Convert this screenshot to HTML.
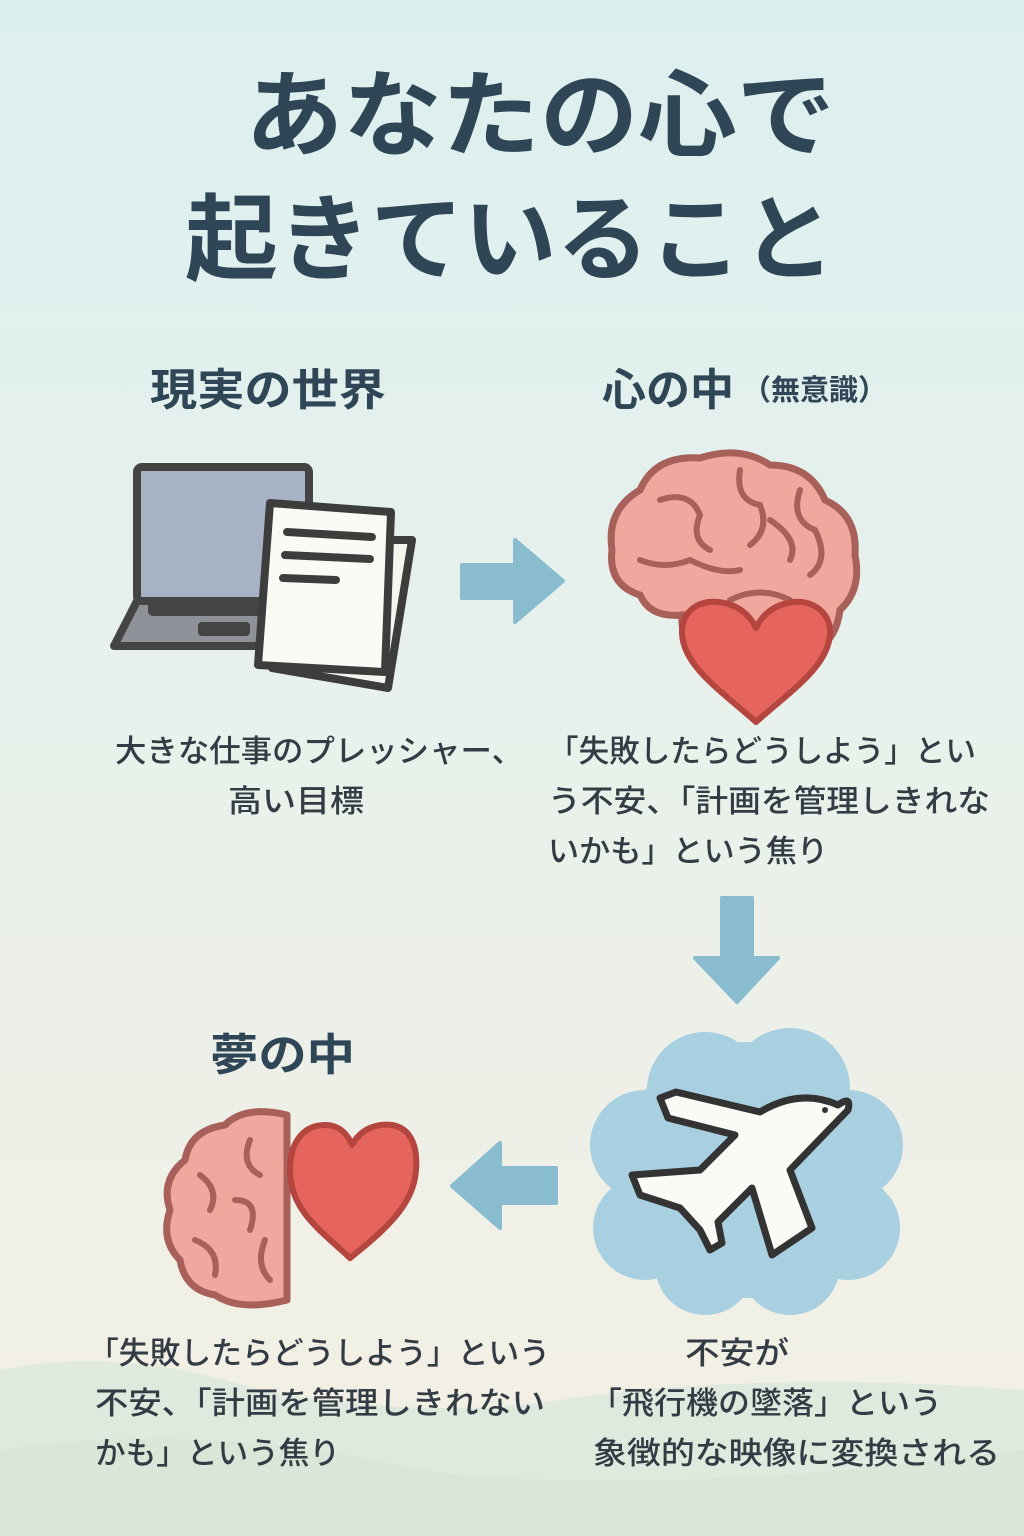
<!DOCTYPE html>
<html><head><meta charset="utf-8"><style>
html,body{margin:0;padding:0;width:1024px;height:1536px;overflow:hidden}
svg{display:block}
text{font-family:"Liberation Sans","Noto Sans CJK JP",sans-serif;fill:#2f4656}
.c{fill:#333c44;font-size:31px;font-weight:500}
</style></head><body>
<svg width="1024" height="1536" viewBox="0 0 1024 1536" xmlns="http://www.w3.org/2000/svg">
<defs>
<linearGradient id="bg" x1="0" y1="0" x2="0" y2="1">
<stop offset="0" stop-color="#dcefef"/><stop offset="0.5" stop-color="#e9f1eb"/><stop offset="1" stop-color="#f4efe3"/>
</linearGradient>
</defs>
<rect width="1024" height="1536" fill="url(#bg)"/>
<path d="M0 1370 Q120 1345 260 1390 Q420 1420 560 1400 Q760 1370 1024 1390 L1024 1536 L0 1536Z" fill="#dfe9de"/>
<path d="M0 1450 Q200 1420 420 1470 Q650 1500 1024 1450 L1024 1536 L0 1536Z" fill="#d6e4d6" opacity="0.7"/>

<text x="245" y="148" font-size="94" font-weight="bold" textLength="590" lengthAdjust="spacingAndGlyphs">あなたの心で</text>
<text x="185" y="272" font-size="94" font-weight="bold" textLength="650" lengthAdjust="spacingAndGlyphs">起きていること</text>

<text x="150" y="405" font-size="44" font-weight="bold" textLength="236" lengthAdjust="spacingAndGlyphs">現実の世界</text>
<text x="602" y="405" font-size="44" font-weight="bold">心の中</text>
<text x="742" y="400" font-size="29" font-weight="bold">（無意識）</text>
<text x="210" y="1070" font-size="44" font-weight="bold" textLength="145" lengthAdjust="spacingAndGlyphs">夢の中</text>

<!-- laptop -->
<rect x="137" y="467" width="172" height="134" rx="5" fill="#a7b3c5" stroke="#444" stroke-width="8"/>
<path d="M137 601 L309 601 L309 646 L114 646 Z" fill="#8e9197" stroke="#444" stroke-width="8" stroke-linejoin="round"/>
<rect x="148" y="598" width="140" height="18" rx="5" fill="#444"/>
<rect x="198" y="622" width="52" height="14" rx="4" fill="#444"/>
<!-- documents -->
<path d="M292 540 L412 540 L388 688 L272 668 Z" fill="#f7f5ef" stroke="#3d3d3d" stroke-width="8" stroke-linejoin="round"/>
<path d="M270 503 L391 512 L385 672 L258 665 Z" fill="#fbfaf5" stroke="#3d3d3d" stroke-width="8" stroke-linejoin="round"/>
<path d="M287 532 L372 537 M285 555 L370 559 M283 578 L336 580" stroke="#3d3d3d" stroke-width="8" stroke-linecap="round"/>

<!-- arrow right -->
<path d="M462 565 L515 565 L515 540 L563 581 L515 622 L515 598 L462 598 Z" fill="#88bcce" stroke="#88bcce" stroke-width="4" stroke-linejoin="round"/>

<!-- brain top -->
<path d="M640 490 Q655 455 700 458 Q740 445 770 465 Q810 465 825 500 Q858 515 855 555 Q862 590 840 610 Q835 650 800 652 Q780 665 760 650 L700 650 Q680 640 682 615 Q650 618 640 595 Q608 585 612 550 Q606 510 640 490Z" fill="#f0a89e" stroke="#a8605a" stroke-width="7"/>
<g fill="none" stroke="#a8605a" stroke-width="6" stroke-linecap="round">
<path d="M660 500 Q690 490 700 515 Q690 540 710 550"/><path d="M740 470 Q735 500 760 505 Q770 530 750 545"/>
<path d="M800 490 Q790 520 815 530 Q830 560 810 575"/><path d="M640 560 Q665 570 690 560 Q720 575 740 570"/>
<path d="M730 600 Q760 585 790 600"/><path d="M770 520 Q800 540 790 560"/></g>
<!-- heart top -->
<path d="M756 722 C720 690 682 665 682 632 C682 610 700 600 718 602 C738 604 750 615 756 628 C762 615 774 604 794 602 C812 600 830 612 830 632 C830 665 792 690 756 722Z" fill="#e5645d" stroke="#b4453f" stroke-width="6" stroke-linejoin="round"/>

<!-- down arrow -->
<path d="M722 898 L752 898 L752 958 L778 958 L737 1002 L695 958 L722 958 Z" fill="#88bcce" stroke="#88bcce" stroke-width="4" stroke-linejoin="round"/>

<!-- cloud -->
<g fill="#a9d0e1">
<circle cx="745" cy="1170" r="128"/><circle cx="705" cy="1090" r="58"/><circle cx="790" cy="1088" r="60"/>
<circle cx="645" cy="1145" r="55"/><circle cx="848" cy="1145" r="55"/><circle cx="645" cy="1228" r="52"/>
<circle cx="848" cy="1228" r="52"/><circle cx="705" cy="1265" r="50"/><circle cx="790" cy="1265" r="50"/>
</g>
<!-- plane -->
<path d="M838 1105 Q852 1095 848 1110 L790 1170 L812 1228 L772 1255 L752 1188 L718 1222 L722 1243 L710 1250 L700 1230 L680 1208 L640 1195 L632 1175 L700 1170 L735 1135 L668 1118 L660 1098 L676 1092 L760 1112 Q800 1088 838 1105Z" fill="#fbfaf5" stroke="#333" stroke-width="7" stroke-linejoin="round"/>
<circle cx="825" cy="1110" r="3" fill="#333"/>

<!-- left arrow -->
<path d="M556 1168 L500 1168 L500 1143 L452 1186 L500 1228 L500 1203 L556 1203 Z" fill="#88bcce" stroke="#88bcce" stroke-width="4" stroke-linejoin="round"/>

<!-- bottom brain half -->
<path d="M287 1115 Q245 1105 225 1125 Q190 1130 185 1160 Q160 1180 170 1210 Q160 1240 180 1260 Q185 1290 215 1295 Q240 1312 287 1300 Z" fill="#f0a89e" stroke="#a8605a" stroke-width="7" stroke-linejoin="round"/>
<g fill="none" stroke="#a8605a" stroke-width="6" stroke-linecap="round">
<path d="M250 1140 Q240 1165 260 1175"/><path d="M200 1175 Q220 1190 210 1210"/><path d="M235 1200 Q260 1200 250 1230"/>
<path d="M195 1240 Q220 1250 215 1275"/><path d="M265 1240 Q255 1265 270 1280"/></g>
<path d="M350 1258 C320 1230 290 1210 290 1170 C290 1140 305 1125 325 1125 C340 1125 348 1135 352 1145 C360 1130 375 1123 392 1125 C410 1128 418 1145 416 1170 C414 1205 385 1230 350 1258Z" fill="#e5645d" stroke="#b4453f" stroke-width="6" stroke-linejoin="round"/>

<!-- captions -->
<text class="c" x="115" y="762" textLength="408" lengthAdjust="spacingAndGlyphs">大きな仕事のプレッシャー、</text>
<text class="c" x="228" y="812" textLength="136" lengthAdjust="spacingAndGlyphs">高い目標</text>
<text class="c" x="548" y="762" textLength="428" lengthAdjust="spacingAndGlyphs">「失敗したらどうしよう」とい</text>
<text class="c" x="548" y="812" textLength="442" lengthAdjust="spacingAndGlyphs">う不安、「計画を管理しきれな</text>
<text class="c" x="548" y="862" textLength="280" lengthAdjust="spacingAndGlyphs">いかも」という焦り</text>

<text class="c" x="88" y="1364" textLength="462" lengthAdjust="spacingAndGlyphs">「失敗したらどうしよう」という</text>
<text class="c" x="95" y="1414" textLength="450" lengthAdjust="spacingAndGlyphs">不安、「計画を管理しきれない</text>
<text class="c" x="95" y="1464" textLength="245" lengthAdjust="spacingAndGlyphs">かも」という焦り</text>
<text class="c" x="685" y="1364" textLength="104" lengthAdjust="spacingAndGlyphs">不安が</text>
<text class="c" x="590" y="1414" textLength="352" lengthAdjust="spacingAndGlyphs">「飛行機の墜落」という</text>
<text class="c" x="593" y="1464" textLength="407" lengthAdjust="spacingAndGlyphs">象徴的な映像に変換される</text>
</svg>
</body></html>
